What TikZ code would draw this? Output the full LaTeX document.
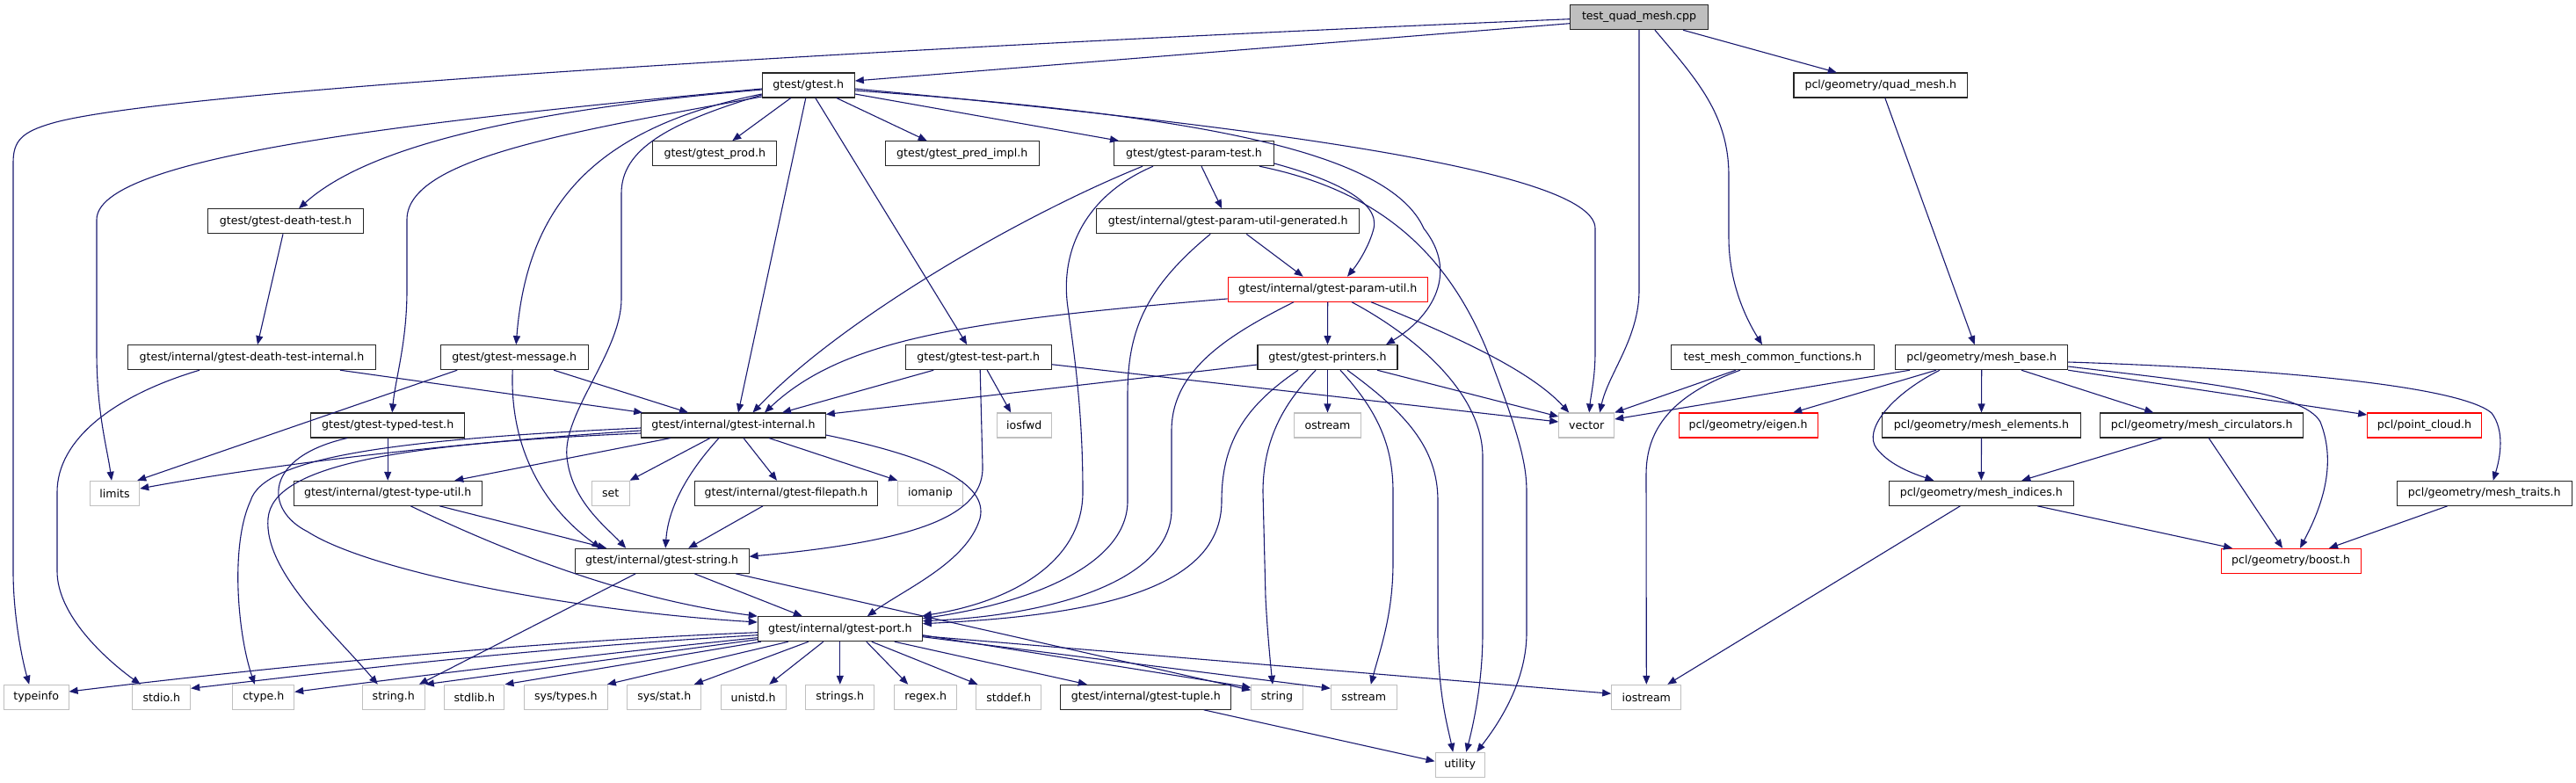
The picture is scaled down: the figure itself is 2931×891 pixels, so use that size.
\documentclass[tikz,border=0pt]{standalone}
\usepackage{fontspec}
\newfontfamily\djfont{DejaVu Sans}
\usetikzlibrary{arrows.meta}
\definecolor{edgeblue}{HTML}{191970}
\definecolor{extgray}{HTML}{BFBFBF}
\definecolor{truncred}{HTML}{FF0000}
\tikzset{
  box/.style={rectangle, minimum height=28pt, inner sep=0pt, line width=1.05pt,
    font=\djfont\fontsize{12.6}{14}\selectfont, text=black},
  doc/.style={box, draw=black!85},
  ext/.style={box, draw=extgray},
  trunc/.style={box, draw=truncred},
  edge/.style={draw=edgeblue, line width=1.1pt, -{Triangle[length=10pt,width=8pt]}}
}
\begin{document}
\begin{tikzpicture}[x=1pt,y=-1pt]
\useasboundingbox[fill=white] (0,0) rectangle (2931,891);
% nodes
\node[doc, fill=extgray, minimum width=156.6pt] (tq) at (1865,19.7) {test\_quad\_mesh.cpp};
\node[doc, minimum width=105pt] (gt) at (919.8,97) {gtest/gtest.h};
\node[doc, minimum width=197.7pt] (qm) at (2139.8,97) {pcl/geometry/quad\_mesh.h};
\node[doc, minimum width=176.6pt] (dt) at (325,251.8) {gtest/gtest-death-test.h};
\node[doc, minimum width=140.7pt] (prod) at (813.3,174.7) {gtest/gtest\_prod.h};
\node[doc, minimum width=175.3pt] (pred) at (1094.7,174.7) {gtest/gtest\_pred\_impl.h};
\node[doc, minimum width=181.6pt] (pt) at (1358.5,174.7) {gtest/gtest-param-test.h};
\node[doc, minimum width=299pt] (gen) at (1397.2,251.8) {gtest/internal/gtest-param-util-generated.h};
\node[trunc, minimum width=227.3pt] (pu) at (1510.7,329.2) {gtest/internal/gtest-param-util.h};
\node[doc, minimum width=281.6pt] (dti) at (286.5,406.7) {gtest/internal/gtest-death-test-internal.h};
\node[doc, minimum width=168.3pt] (msg) at (585.2,406.7) {gtest/gtest-message.h};
\node[doc, minimum width=165.7pt] (tp) at (1113.2,406.7) {gtest/gtest-test-part.h};
\node[doc, minimum width=159pt] (pr) at (1510.5,406.7) {gtest/gtest-printers.h};
\node[doc, minimum width=230.6pt] (cf) at (2017,406.7) {test\_mesh\_common\_functions.h};
\node[doc, minimum width=196pt] (mb) at (2254.7,406.7) {pcl/geometry/mesh\_base.h};
\node[doc, minimum width=175pt] (tt) at (441.2,484) {gtest/gtest-typed-test.h};
\node[doc, minimum width=209.6pt] (gi) at (834.5,484) {gtest/internal/gtest-internal.h};
\node[ext, minimum width=61.7pt] (iosfwd) at (1165.2,484) {iosfwd};
\node[ext, minimum width=76.4pt] (ostream) at (1510.5,484) {ostream};
\node[ext, minimum width=63pt] (vector) at (1805.2,484) {vector};
\node[trunc, minimum width=157.7pt] (eigen) at (1989.2,484) {pcl/geometry/eigen.h};
\node[doc, minimum width=225.6pt] (me) at (2254.5,484) {pcl/geometry/mesh\_elements.h};
\node[doc, minimum width=231pt] (mc) at (2505.2,484) {pcl/geometry/mesh\_circulators.h};
\node[trunc, minimum width=129.6pt] (pc) at (2758.5,484) {pcl/point\_cloud.h};
\node[ext, minimum width=56.4pt] (limits) at (130.5,561.3) {limits};
\node[doc, minimum width=213.7pt] (tu) at (441.2,561.3) {gtest/internal/gtest-type-util.h};
\node[ext, minimum width=42.7pt] (setn) at (694.7,561.3) {set};
\node[doc, minimum width=208.4pt] (fp) at (894.5,561.3) {gtest/internal/gtest-filepath.h};
\node[ext, minimum width=73.6pt] (iomanip) at (1058.5,561.3) {iomanip};
\node[doc, minimum width=210pt] (mi) at (2254.3,561.3) {pcl/geometry/mesh\_indices.h};
\node[doc, minimum width=199.3pt] (mt) at (2826.7,561.3) {pcl/geometry/mesh\_traits.h};
\node[doc, minimum width=197.7pt] (gs) at (753.2,638.3) {gtest/internal/gtest-string.h};
\node[trunc, minimum width=159pt] (boost) at (2606.5,638.3) {pcl/geometry/boost.h};
\node[doc, minimum width=187pt] (port) at (955.8,715.7) {gtest/internal/gtest-port.h};
\node[ext, minimum width=73.7pt] (typeinfo) at (41.2,793.3) {typeinfo};
\node[ext, minimum width=65.7pt] (stdio) at (183.8,793.3) {stdio.h};
\node[ext, minimum width=69.7pt] (ctype) at (299.8,793.3) {ctype.h};
\node[ext, minimum width=71pt] (stringh) at (447.8,793.3) {string.h};
\node[ext, minimum width=68.3pt] (stdlib) at (539.8,793.3) {stdlib.h};
\node[ext, minimum width=95pt] (systypes) at (643.8,793.3) {sys/types.h};
\node[ext, minimum width=84.3pt] (sysstat) at (755.8,793.3) {sys/stat.h};
\node[ext, minimum width=73.7pt] (unistd) at (857.2,793.3) {unistd.h};
\node[ext, minimum width=77.7pt] (strings) at (955.8,793.3) {strings.h};
\node[ext, minimum width=71pt] (regex) at (1053.2,793.3) {regex.h};
\node[ext, minimum width=73.7pt] (stddef) at (1147.8,793.3) {stddef.h};
\node[doc, minimum width=193.7pt] (tuple) at (1303.8,793.3) {gtest/internal/gtest-tuple.h};
\node[ext, minimum width=58.6pt] (stringn) at (1453,793.3) {string};
\node[ext, minimum width=75pt] (sstream) at (1551.8,793.3) {sstream};
\node[ext, minimum width=79.3pt] (iostream) at (1873.3,793.3) {iostream};
\node[ext, minimum width=56.3pt] (utility) at (1661.2,870.3) {utility};

% test_quad_mesh.cpp
\draw[edge] ([yshift=-7pt]tq.west) -- ([yshift=5pt]gt.east);
\draw[edge] ([yshift=-2pt]tq.west) .. controls (1100,50) and (200,100) .. (60,140) .. controls (25,150) and (15,160) .. (15,185) -- (15,650) .. controls (15,700) and (25,750) .. ([xshift=-8pt]typeinfo.north);
\draw[edge] (tq.south) -- (1865,330) .. controls (1865,385) and (1830,425) .. ([xshift=15pt]vector.north);
\draw[edge] ([xshift=18pt]tq.south) .. controls (1930,90) and (1967,130) .. (1967,200) -- (1967,270) .. controls (1967,320) and (1985,360) .. ([xshift=-12pt]cf.north);
\draw[edge] ([xshift=50pt]tq.south) -- ([xshift=-50pt]qm.north);

% gtest.h
\draw[edge] ([yshift=-5pt]gt.west) .. controls (600,125) and (420,165) .. ([xshift=15pt]dt.north);
\draw[edge] ([yshift=-4pt]gt.west) .. controls (450,140) and (110,180) .. (110,250) -- (110,400) .. controls (110,470) and (122,510) .. ([xshift=-3.5pt]limits.north);
\draw[edge] ([yshift=-13pt]gt.west) .. controls (650,150) and (463,180) .. (463,250) -- (463,330) .. controls (463,390) and (450,430) .. ([xshift=5pt]tt.north);
\draw[edge] ([yshift=-10pt]gt.west) .. controls (680,145) and (600,230) .. ([xshift=2pt]msg.north);
\draw[edge] ([yshift=-11pt]gt.west) .. controls (760,140) and (707,170) .. (707,220) -- (707,340) .. controls (707,400) and (640,470) .. (645,520) .. controls (650,570) and (690,600) .. ([xshift=-41pt]gs.north);
\draw[edge] ([xshift=-20pt]gt.south) -- ([xshift=20pt]prod.north);
\draw[edge] ([xshift=-3pt]gt.south) -- ([xshift=5.5pt]gi.north);
\draw[edge] ([xshift=8pt]gt.south) -- ([xshift=-13pt]tp.north);
\draw[edge] ([xshift=32pt]gt.south) -- ([xshift=-40pt]pred.north);
\draw[edge] ([yshift=-10pt]gt.east) -- ([xshift=-85.5pt]pt.north);
\draw[edge] ([yshift=-4pt]gt.east) .. controls (1500,150) and (1815,200) .. (1815,260) -- (1815,400) .. controls (1815,430) and (1810,450) .. ([xshift=3pt]vector.north);
\draw[edge] ([yshift=-6pt]gt.east) .. controls (1350,130) and (1580,170) .. (1620,260) .. controls (1660,310) and (1630,360) .. ([xshift=66.5pt]pr.north);

% death test
\draw[edge] ([xshift=-3pt]dt.south) -- ([xshift=6.5pt]dti.north);
\draw[edge] ([xshift=100.5pt]dti.south) -- ([xshift=2pt]gi.north west);
\draw[edge] ([xshift=-59.5pt]dti.south) .. controls (130,450) and (65,500) .. (65,560) -- (65,650) .. controls (65,700) and (120,750) .. ([xshift=-24pt]stdio.north);

% message
\draw[edge] ([xshift=-65pt]msg.south) -- ([xshift=-3pt]limits.north east);
\draw[edge] ([xshift=-2pt]msg.south) .. controls (580,500) and (610,570) .. ([xshift=-70pt]gs.north);
\draw[edge] ([xshift=45pt]msg.south) -- ([xshift=-51.5pt]gi.north);

% typed test
\draw[edge] (tt.south) -- (tu.north);
\draw[edge] ([xshift=-46pt]tt.south) .. controls (300,520) and (300,580) .. (350,605) .. controls (420,650) and (650,695) .. ([yshift=7.7pt]port.west);

% type util
\draw[edge] ([xshift=59pt]tu.south) -- ([xshift=-63pt]gs.north);
\draw[edge] ([xshift=26pt]tu.south) .. controls (560,620) and (700,680) .. (port.north west);

% gtest-internal
\draw[edge] ([yshift=-6pt]gi.west) .. controls (500,505) and (300,530) .. ([yshift=5.3pt]limits.east);
\draw[edge] ([yshift=-3pt]gi.west) .. controls (450,500) and (300,520) .. (285,570) .. controls (262,620) and (270,720) .. ([xshift=-10pt]ctype.north);
\draw[edge] ([yshift=-9pt]gi.west) .. controls (450,505) and (310,530) .. (305,590) .. controls (300,650) and (380,720) .. ([xshift=-18pt]stringh.north);
\draw[edge] ([xshift=-71.5pt]gi.south) -- ([xshift=76pt]tu.north);
\draw[edge] ([xshift=-26.5pt]gi.south) -- (setn.north east);
\draw[edge] ([xshift=-16.5pt]gi.south) .. controls (780,540) and (760,580) .. ([xshift=4pt]gs.north);
\draw[edge] ([xshift=11.5pt]gi.south) -- ([xshift=-10.5pt]fp.north);
\draw[edge] ([xshift=40.5pt]gi.south) -- (iomanip.north west);
\draw[edge] ([yshift=-11pt]gi.east) .. controls (1060,520) and (1125,550) .. (1115,590) .. controls (1100,640) and (1030,670) .. ([xshift=31pt]port.north);

% filepath
\draw[edge] ([xshift=-26.5pt]fp.south) -- ([xshift=30pt]gs.north);

% test-part
\draw[edge] ([xshift=-51pt]tp.south) -- ([xshift=55.5pt]gi.north);
\draw[edge] ([xshift=10pt]tp.south) -- ([xshift=-15pt]iosfwd.north);
\draw[edge] ([xshift=2pt]tp.south) -- (1118,530) .. controls (1120,585) and (1050,615) .. ([yshift=5pt]gs.east);
\draw[edge] ([yshift=-8pt]tp.east) -- ([yshift=4pt]vector.west);

% param-test
\draw[edge] ([xshift=-58.5pt]pt.south) .. controls (1150,250) and (950,370) .. ([xshift=22pt]gi.north);
\draw[edge] ([xshift=-46.5pt]pt.south) .. controls (1240,220) and (1205,280) .. (1215,350) .. controls (1225,420) and (1232,480) .. (1232,560) .. controls (1232,640) and (1150,685) .. ([yshift=15pt]port.east);
\draw[edge] ([yshift=-11.3pt]pt.east) .. controls (1520,205) and (1570,230) .. (1563,260) .. controls (1558,280) and (1545,300) .. ([xshift=22.3pt]pu.north);
\draw[edge] ([xshift=8.5pt]pt.south) -- ([xshift=-7pt]gen.north);
\draw[edge] ([xshift=74.5pt]pt.south) .. controls (1560,215) and (1650,280) .. (1700,420) .. controls (1730,500) and (1737,530) .. (1737,560) -- (1737,720) .. controls (1737,780) and (1700,830) .. ([xshift=19pt]utility.north);

% generated
\draw[edge] ([xshift=21pt]gen.south) -- ([xshift=-28pt]pu.north);
\draw[edge] ([xshift=-20pt]gen.south) .. controls (1300,330) and (1283,380) .. (1283,450) -- (1283,570) .. controls (1283,640) and (1180,685) .. ([yshift=12pt]port.east);

% param-util
\draw[edge] ([yshift=-10.8pt]pu.west) .. controls (1100,365) and (960,385) .. ([xshift=35.5pt]gi.north);
\draw[edge] (pu.south) -- (pr.north);
\draw[edge] ([xshift=-38.7pt]pu.south) .. controls (1400,380) and (1333,420) .. (1333,490) -- (1333,580) .. controls (1333,660) and (1200,700) .. ([yshift=9pt]port.east);
\draw[edge] ([xshift=27.3pt]pu.south) .. controls (1615,385) and (1687,450) .. (1687,520) -- (1687,720) .. controls (1687,780) and (1675,830) .. ([xshift=7pt]utility.north);
\draw[edge] ([xshift=49.3pt]pu.south) .. controls (1650,380) and (1740,420) .. ([xshift=-20pt]vector.north);

% printers
\draw[edge] ([yshift=-8.3pt]pr.west) -- ([yshift=-2pt]gi.north east);
\draw[edge] ([xshift=56.5pt]pr.south) -- ([yshift=10pt]vector.west);
\draw[edge] (pr.south) -- (ostream.north);
\draw[edge] ([xshift=14.5pt]pr.south) .. controls (1570,470) and (1585,510) .. (1585,560) -- (1585,640) .. controls (1585,700) and (1570,740) .. ([xshift=8pt]sstream.north);
\draw[edge] ([xshift=22.5pt]pr.south) .. controls (1600,470) and (1636,510) .. (1636,570) -- (1636,720) .. controls (1636,790) and (1648,830) .. ([xshift=-8pt]utility.north);
\draw[edge] ([xshift=-13.5pt]pr.south) .. controls (1470,450) and (1437,490) .. (1437,560) -- (1440,680) .. controls (1442,720) and (1446,760) .. ([xshift=-5pt]stringn.north);
\draw[edge] ([xshift=-33.5pt]pr.south) .. controls (1420,460) and (1390,500) .. (1390,570) .. controls (1390,670) and (1250,700) .. ([yshift=6pt]port.east);

% gtest-port
\draw[edge] ([yshift=-4pt]port.west) .. controls (600,730) and (300,760) .. ([yshift=6.3pt]typeinfo.east);
\draw[edge] ([yshift=-7pt]port.west) .. controls (600,738) and (400,762) .. ([yshift=10pt]stdio.east);
\draw[edge] ([yshift=-10pt]port.west) .. controls (700,742) and (500,766) .. ([yshift=6pt]ctype.east);
\draw[edge] ([yshift=-12pt]port.west) -- (stringh.north east);
\draw[edge] ([xshift=4pt]port.south west) -- (stdlib.north east);
\draw[edge] ([xshift=-59pt]port.south) -- ([xshift=-1pt]systypes.north east);
\draw[edge] ([xshift=-36pt]port.south) -- ([xshift=34pt]sysstat.north);
\draw[edge] ([xshift=-19pt]port.south) -- ([xshift=18pt]unistd.north);
\draw[edge] (port.south) -- (strings.north);
\draw[edge] ([xshift=30pt]port.south) -- ([xshift=-20pt]regex.north);
\draw[edge] ([xshift=36pt]port.south) -- ([xshift=2pt]stddef.north west);
\draw[edge] ([xshift=62pt]port.south) -- ([xshift=-67pt]tuple.north);
\draw[edge] ([yshift=-7pt]port.east) -- ([yshift=11pt]stringn.west);
\draw[edge] ([yshift=-9pt]port.east) -- ([yshift=10pt]sstream.west);
\draw[edge] ([yshift=-8pt]port.east) -- ([yshift=4pt]iostream.west);

% gtest-string
\draw[edge] ([xshift=37pt]gs.south) -- ([xshift=-43pt]port.north);
\draw[edge] ([xshift=-30pt]gs.south) -- ([xshift=29pt]stringh.north);
\draw[edge] ([xshift=84pt]gs.south) -- ([yshift=8pt]stringn.west);

% tuple
\draw[edge] ([xshift=66pt]tuple.south) -- ([yshift=4pt]utility.west);

% common functions
\draw[edge] ([xshift=-42pt]cf.south) -- (vector.north east);
\draw[edge] ([xshift=-37pt]cf.south) .. controls (1900,450) and (1873,490) .. (1873,540) -- (iostream.north);

% quad mesh
\draw[edge] ([xshift=5pt]qm.south) -- ([xshift=-8pt]mb.north);

% mesh base
\draw[edge] ([xshift=-81.7pt]mb.south) -- ([yshift=7pt]vector.east);
\draw[edge] ([xshift=-51.7pt]mb.south) -- ([xshift=51pt]eigen.north);
\draw[edge] ([xshift=-47.7pt]mb.south) .. controls (2150,450) and (2120,490) .. (2135,510) .. controls (2150,530) and (2180,540) .. ([xshift=-54pt]mi.north);
\draw[edge] (mb.south) -- (me.north);
\draw[edge] ([xshift=45.3pt]mb.south) -- ([xshift=-55pt]mc.north);
\draw[edge] (mb.south east) -- ([yshift=12pt]pc.west);
\draw[edge] ([yshift=-10.3pt]mb.east) .. controls (2500,435) and (2620,445) .. (2640,480) .. controls (2660,530) and (2640,580) .. ([xshift=10.5pt]boost.north);
\draw[edge] ([yshift=-5.3pt]mb.east) .. controls (2600,420) and (2800,440) .. (2835,470) .. controls (2850,490) and (2845,520) .. ([xshift=10pt]mt.north);

% mesh elements / circulators / indices / traits
\draw[edge] (me.south) -- (mi.north);
\draw[edge] ([xshift=-45pt]mc.south) -- ([xshift=46pt]mi.north);
\draw[edge] ([xshift=8pt]mc.south) -- ([xshift=-9.5pt]boost.north);
\draw[edge] ([xshift=64pt]mi.south) -- ([xshift=-66.5pt]boost.north);
\draw[edge] ([xshift=-24pt]mi.south) -- ([xshift=24pt]iostream.north);
\draw[edge] ([xshift=-42pt]mt.south) -- ([xshift=43.5pt]boost.north);
\end{tikzpicture}
\end{document}
